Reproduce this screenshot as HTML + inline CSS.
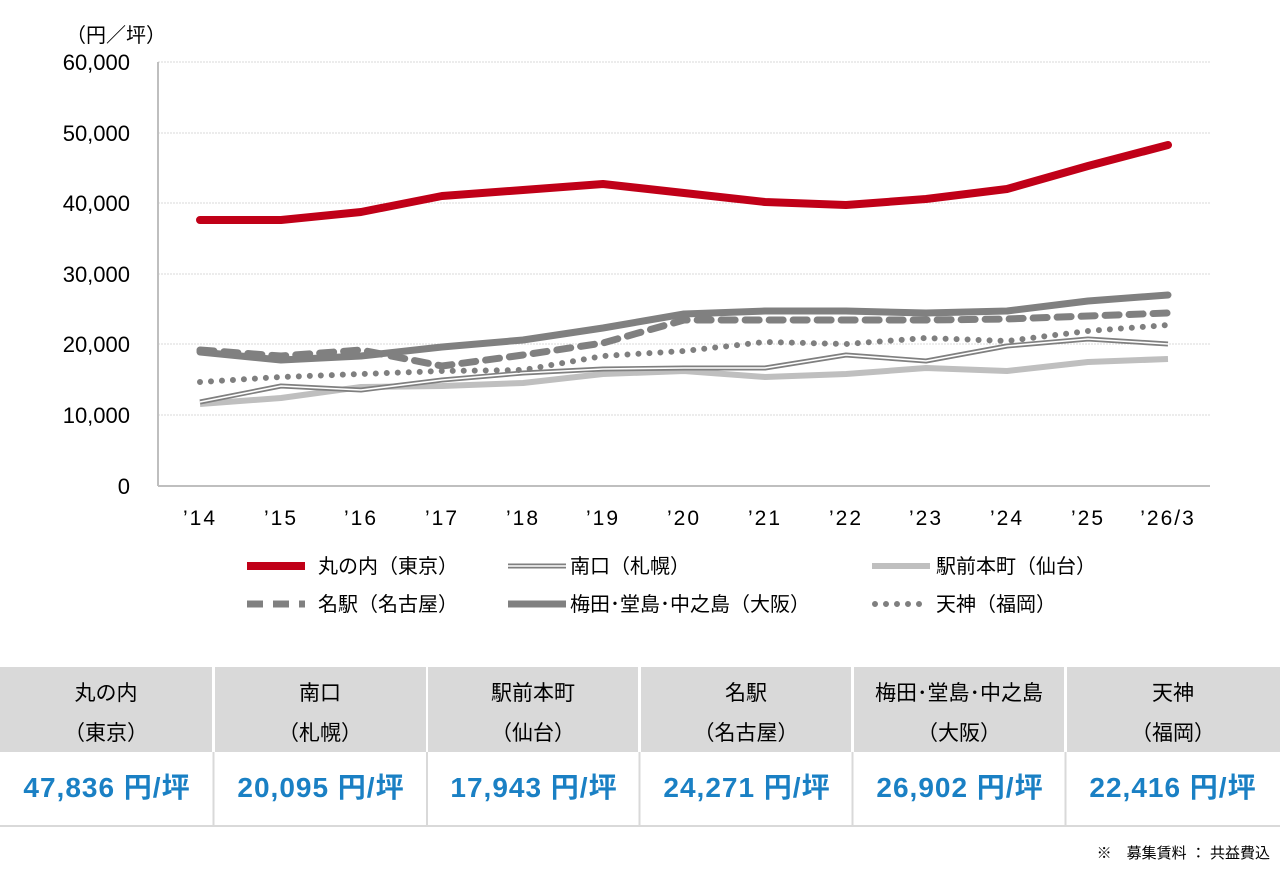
<!DOCTYPE html>
<html><head><meta charset="utf-8"><style>
body{margin:0;width:1280px;height:886px;background:#fff;font-family:"Liberation Sans","Noto Sans CJK JP",sans-serif;position:relative;overflow:hidden}
</style></head><body>
<svg width="1280" height="886" style="position:absolute;left:0;top:0" font-family="Liberation Sans, Noto Sans CJK JP, sans-serif">
<g stroke="#d9d9d9" stroke-width="1" stroke-dasharray="2,1">
<line x1="158" x2="1210" y1="62" y2="62"/><line x1="158" x2="1210" y1="133" y2="133"/>
<line x1="158" x2="1210" y1="203" y2="203"/><line x1="158" x2="1210" y1="274" y2="274"/>
<line x1="158" x2="1210" y1="344" y2="344"/><line x1="158" x2="1210" y1="415" y2="415"/>
</g>
<line x1="158" x2="158" y1="62" y2="486" stroke="#bfbfbf" stroke-width="2"/>
<line x1="158" x2="1210" y1="486" y2="486" stroke="#bfbfbf" stroke-width="2"/>
<g font-size="22" fill="#000" text-anchor="end">
<text x="130" y="70">60,000</text><text x="130" y="141">50,000</text><text x="130" y="211">40,000</text>
<text x="130" y="282">30,000</text><text x="130" y="352">20,000</text><text x="130" y="423">10,000</text><text x="130" y="494">0</text>
</g>
<text x="66" y="42" font-size="20">（円／坪）</text>
<g font-size="21" text-anchor="middle" letter-spacing="2">
<text x="200" y="525">’14</text><text x="281" y="525">’15</text><text x="361" y="525">’16</text><text x="442" y="525">’17</text><text x="523" y="525">’18</text><text x="603" y="525">’19</text><text x="684" y="525">’20</text><text x="765" y="525">’21</text><text x="846" y="525">’22</text><text x="926" y="525">’23</text><text x="1007" y="525">’24</text><text x="1088" y="525">’25</text><text x="1168" y="525">’26/3</text>
</g>
<g fill="none" stroke-linejoin="round">
<polyline stroke="#bfbfbf" stroke-width="6" points="200,404 281,398 361,387 442,386 523,383 603,374 684,371 765,377 846,374 926,368 1007,371 1088,362 1168,359"/>
<polyline stroke="#7f7f7f" stroke-width="5" points="200,402 281,386 361,390 442,380 523,373 603,369 684,368 765,368 846,355 926,361 1007,346 1088,339 1168,344"/>
<polyline stroke="#fff" stroke-width="1.6" points="200,402 281,386 361,390 442,380 523,373 603,369 684,368 765,368 846,355 926,361 1007,346 1088,339 1168,344"/>
<polyline stroke="#7f7f7f" stroke-width="6" stroke-dasharray="0,11" stroke-linecap="round" points="200,382 281,377 361,374 442,371 523,370 603,356 684,351 765,342 846,344 926,338 1007,341 1088,331 1168,325"/>
<polyline stroke="#808080" stroke-width="7" stroke-linecap="round" points="200,352 281,360 361,356 442,347 523,340 603,328 684,314 765,311 846,311 926,313 1007,311 1088,301 1168,295"/>
<polyline stroke="#808080" stroke-width="7" stroke-dasharray="14,10" stroke-linecap="round" points="200,350 281,356 361,350 442,366 523,355 603,343 684,320 765,320 846,320 926,320 1007,319 1088,316 1168,313"/>
<polyline stroke="#c00018" stroke-width="8" stroke-linecap="round" points="200,220 281,220 361,212 442,196 523,190 603,184 684,193 765,202 846,205 926,199 1007,189 1088,166 1168,145"/>
</g>
<g font-size="20">
<line x1="247" x2="305" y1="566" y2="566" stroke="#c00018" stroke-width="8"/><text x="318" y="573">丸の内（東京）</text>
<line x1="508" x2="566" y1="566" y2="566" stroke="#7f7f7f" stroke-width="5"/><line x1="508" x2="566" y1="566" y2="566" stroke="#fff" stroke-width="1.6"/><text x="570" y="573">南口（札幌）</text>
<line x1="872" x2="930" y1="566" y2="566" stroke="#bfbfbf" stroke-width="6"/><text x="936" y="573">駅前本町（仙台）</text>
<line x1="247" x2="305" y1="604" y2="604" stroke="#808080" stroke-width="7" stroke-dasharray="16,10"/><text x="318" y="611">名駅（名古屋）</text>
<line x1="508" x2="566" y1="604" y2="604" stroke="#808080" stroke-width="7"/><text x="570" y="611">梅田･堂島･中之島（大阪）</text>
<line x1="875" x2="930" y1="604" y2="604" stroke="#7f7f7f" stroke-width="6" stroke-dasharray="0,11" stroke-linecap="round"/><text x="936" y="611">天神（福岡）</text>
</g>
<g fill="#d9d9d9">
<rect x="0" y="667" width="212" height="85"/><rect x="215" y="667" width="211" height="85"/><rect x="428" y="667" width="210" height="85"/>
<rect x="641" y="667" width="210" height="85"/><rect x="854" y="667" width="210" height="85"/><rect x="1067" y="667" width="213" height="85"/>
</g>
<g stroke="#d9d9d9" stroke-width="2"><line x1="213.5" x2="213.5" y1="752" y2="825"/><line x1="427" x2="427" y1="752" y2="825"/><line x1="639.5" x2="639.5" y1="752" y2="825"/><line x1="852.5" x2="852.5" y1="752" y2="825"/><line x1="1065.5" x2="1065.5" y1="752" y2="825"/><line x1="0" x2="1280" y1="826" y2="826"/></g>
<g font-size="21" text-anchor="middle" fill="#000">
<text x="106" y="700">丸の内</text><text x="106" y="740">（東京）</text>
<text x="320" y="700">南口</text><text x="320" y="740">（札幌）</text>
<text x="533" y="700">駅前本町</text><text x="533" y="740">（仙台）</text>
<text x="746" y="700">名駅</text><text x="746" y="740">（名古屋）</text>
<text x="959" y="700">梅田･堂島･中之島</text><text x="959" y="740">（大阪）</text>
<text x="1173" y="700">天神</text><text x="1173" y="740">（福岡）</text>
</g>
<g font-size="28" font-weight="bold" text-anchor="middle" fill="#1a80c4" letter-spacing="1">
<text x="107" y="797">47,836 円/坪</text><text x="321" y="797">20,095 円/坪</text><text x="534" y="797">17,943 円/坪</text>
<text x="747" y="797">24,271 円/坪</text><text x="960" y="797">26,902 円/坪</text><text x="1173" y="797">22,416 円/坪</text>
</g>
<text x="1270" y="858" font-size="15" text-anchor="end">※　募集賃料 ： 共益費込</text>
</svg>
</body></html>
